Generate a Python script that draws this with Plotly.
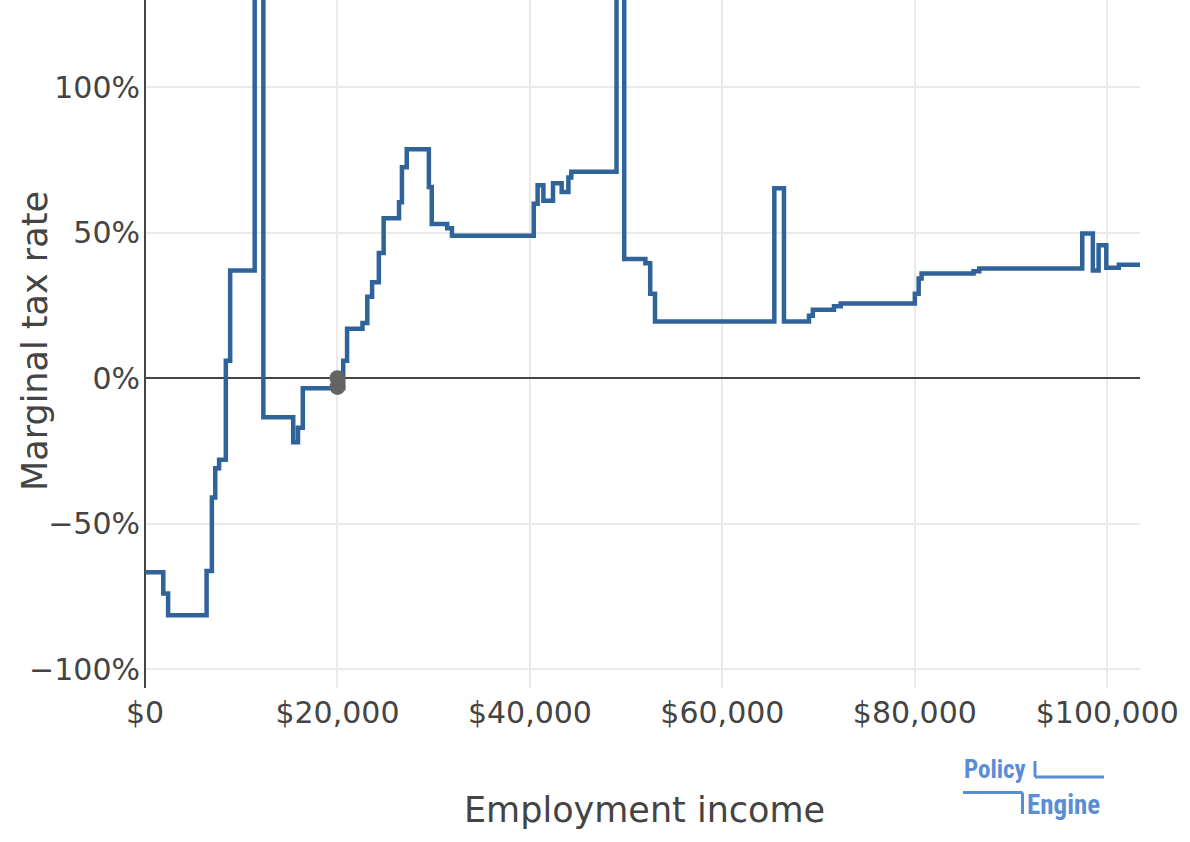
import plotly.graph_objects as go

# ---- data (step function: income where each step begins, marginal tax rate) ----
income = [0, 1900, 2400, 6400, 6950, 7300, 7700, 8400, 8850, 11400, 12300,
          15400, 15900, 16400, 20600, 21000, 22600, 23100, 23600, 24300, 24800,
          26400, 26700, 27200, 29500, 29800, 31400, 31900, 40400, 40800, 41400,
          42400, 43300, 44000, 44300, 49000, 49800, 52000, 52500, 53000, 65400,
          66400, 69000, 69400, 71600, 72300, 80000, 80400, 80700, 86100, 86700,
          97400, 98500, 99100, 99900, 101200, 103400]
mtr = [-0.667, -0.74, -0.815, -0.663, -0.41, -0.31, -0.28, 0.06, 0.37, 3.0, -0.134,
       -0.22, -0.17, -0.035, 0.06, 0.17, 0.19, 0.28, 0.33, 0.43, 0.55,
       0.605, 0.725, 0.787, 0.657, 0.53, 0.515, 0.49, 0.60, 0.663, 0.61,
       0.67, 0.64, 0.69, 0.71, 3.0, 0.41, 0.395, 0.29, 0.195, 0.653,
       0.195, 0.215, 0.235, 0.247, 0.257, 0.29, 0.343, 0.36, 0.368, 0.377,
       0.497, 0.37, 0.457, 0.38, 0.39, 0.39]

current_income = [20000, 20000]
current_mtr = [0.0, -0.03]

x_ticks = [0, 20000, 40000, 60000, 80000, 100000]
x_tick_labels = ["$0", "$20,000", "$40,000", "$60,000", "$80,000", "$100,000"]
y_ticks = [-1.0, -0.5, 0.0, 0.5, 1.0]

BLUE = "#2F6399"
LOGO = "#5A8ED4"
FONT = "DejaVu Sans"

W, H = 1190, 842
PL, PR, PT, PB = 145, 1140, 0, 688


def px(xp):
    return (xp - PL) / (PR - PL)


def py(yp):
    return (PB - yp) / (PB - PT)


fig = go.Figure()
fig.add_trace(go.Scatter(x=income, y=mtr, mode="lines", line=dict(color=BLUE, width=4.5, shape="hv"),
                         showlegend=False, hoverinfo="skip"))
fig.add_trace(go.Scatter(x=current_income, y=current_mtr, mode="markers",
                         marker=dict(color="#646464", size=16), showlegend=False))

fig.update_layout(
    width=W, height=H,
    margin=dict(l=PL, r=W - PR, t=PT, b=H - PB, pad=0),
    plot_bgcolor="white", paper_bgcolor="white",
    font=dict(family=FONT, color="#444", size=30),
    xaxis=dict(range=[0, 103400], tickvals=x_ticks, ticktext=x_tick_labels,
               showgrid=True, gridcolor="#eaeaea", gridwidth=1.5,
               zeroline=True, zerolinecolor="#444", zerolinewidth=2,
               showline=False, ticks="", ticklabelstandoff=4, tickfont=dict(size=30)),
    yaxis=dict(range=[-1.065, 1.3], tickvals=y_ticks, tickformat=".0%",
               showgrid=True, gridcolor="#eaeaea", gridwidth=1.5,
               zeroline=True, zerolinecolor="#444", zerolinewidth=1.5,
               showline=False, ticks="", ticklabelstandoff=4, tickfont=dict(size=30)),
)

# axis titles
fig.add_annotation(text="Employment income", xref="paper", yref="paper", x=px(644), y=py(810),
                   xanchor="center", yanchor="middle", showarrow=False,
                   font=dict(family=FONT, size=35, color="#444"))
fig.add_annotation(text="Marginal tax rate", xref="paper", yref="paper", x=px(35), y=py(341),
                   xanchor="center", yanchor="middle", textangle=-90, showarrow=False,
                   font=dict(family=FONT, size=35, color="#444"))

# PolicyEngine logo
LF = "Liberation Sans Narrow, Roboto Condensed, Roboto"
fig.add_annotation(text="<b>Policy</b>", xref="paper", yref="paper", x=px(962), y=py(769),
                   xanchor="left", yanchor="middle", showarrow=False,
                   font=dict(family=LF, size=25, color=LOGO))
fig.add_annotation(text="<b>Engine</b>", xref="paper", yref="paper", x=px(1025), y=py(805),
                   xanchor="left", yanchor="middle", showarrow=False,
                   font=dict(family=LF, size=27, color=LOGO))
for (x0, y0, x1, y1) in [(1035, 761, 1035, 777), (1035, 777, 1104, 777),
                         (963, 792.5, 1022.5, 792.5), (1022.5, 792.5, 1022.5, 814)]:
    fig.add_shape(type="line", xref="paper", yref="paper", x0=px(x0), y0=py(y0), x1=px(x1), y1=py(y1),
                  line=dict(color=LOGO, width=3))

fig.write_html("out.html", config={"displayModeBar": False},
               post_script="document.body.style.margin='0px';")
